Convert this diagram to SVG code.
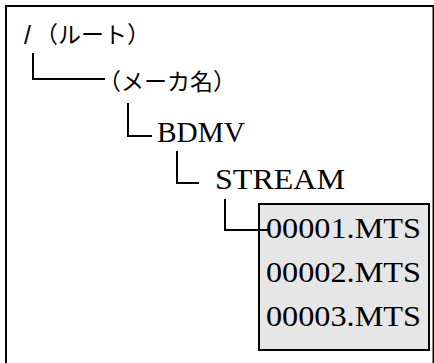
<svg xmlns="http://www.w3.org/2000/svg" width="434" height="363" viewBox="0 0 434 363">
<style>
.jp{font-family:"Liberation Serif","Noto Sans CJK JP",serif;font-size:23px;fill:#000}
.sl{font-family:"Liberation Sans",sans-serif;font-size:25px;fill:#000}
.lat{font-family:"Liberation Serif","Noto Sans CJK JP",serif;font-size:30px;fill:#000}
.ln{fill:none;stroke:#000;stroke-width:2}
</style>
<rect x="0" y="0" width="434" height="363" fill="#fff"/>
<rect x="6" y="6" width="427.5" height="380" fill="#fff" stroke="#000" stroke-width="2"/>
<g id="root"><text class="sl" x="24" y="44">/</text><text class="jp" x="35" y="43">（ルート）</text></g>
<g id="maker"><text class="jp" x="98" y="90">（メーカ名）</text></g>
<g id="bdmv"><text class="lat" x="157" y="142" textLength="88" lengthAdjust="spacingAndGlyphs">BDMV</text></g>
<g id="stream"><text class="lat" x="215" y="189" textLength="130" lengthAdjust="spacingAndGlyphs">STREAM</text></g>
<g id="files">
<rect x="259" y="204" width="170" height="146" fill="#e6e6e6" stroke="#000" stroke-width="2"/>
<text class="lat" x="266" y="238" textLength="155" lengthAdjust="spacingAndGlyphs">00001.MTS</text>
<text class="lat" x="266" y="282" textLength="155" lengthAdjust="spacingAndGlyphs">00002.MTS</text>
<text class="lat" x="266" y="326" textLength="155" lengthAdjust="spacingAndGlyphs">00003.MTS</text>
</g>
<g id="connectors">
<path class="ln" d="M33 53V79H105"/>
<path class="ln" d="M128 103V136H152"/>
<path class="ln" d="M177 151V183H199"/>
<path class="ln" d="M225 199V230H268"/>
</g>
</svg>
